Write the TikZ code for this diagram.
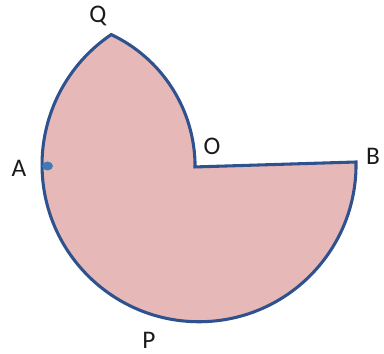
\documentclass[tikz,border=0pt]{standalone}
\usepackage{fontspec}
\setmainfont{Carlito}
\definecolor{edgeblue}{HTML}{2F528F}
\definecolor{dotblue}{HTML}{3C7BB8}
\definecolor{pinkfill}{HTML}{E6B9B8}
\definecolor{labelcol}{HTML}{1A1A1A}
\begin{document}
\begin{tikzpicture}[x=0.75pt,y=0.75pt,
  outline/.style={draw=edgeblue,line width=2.3pt,fill=pinkfill,line join=miter},
  ptlabel/.style={anchor=base,inner sep=0pt,text=labelcol,font=\fontsize{19}{22}\selectfont}]
\useasboundingbox (0,0) rectangle (384,353);
\coordinate (C) at (198,188);
\coordinate (O) at (193.5,186);
\coordinate (B) at (356,191);
\path[outline] (B) arc[start angle=1,end angle=-236,radius=157] coordinate (Q)
  arc[start angle=64.8,end angle=0,radius=146] -- (O) -- cycle;
\fill[dotblue] (47.5,187) ellipse[x radius=5.5,y radius=4.5];
\node[ptlabel] (lQ) at (98,330) {Q};
\node[ptlabel] (lA) at (19,176) {A};
\node[ptlabel] (lO) at (212,198) {O};
\node[ptlabel] (lB) at (373,188) {B};
\node[ptlabel] (lP) at (149,5) {P};
\end{tikzpicture}
\end{document}
